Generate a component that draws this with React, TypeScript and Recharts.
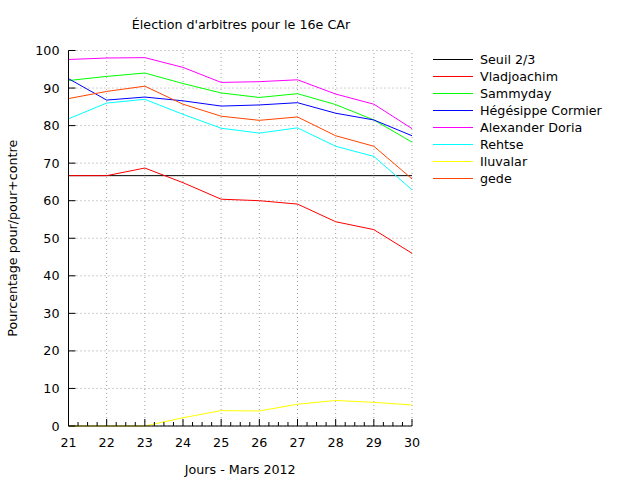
import { CartesianGrid, Legend, Line, LineChart, ReferenceLine, XAxis, YAxis } from "recharts";

const days = [21, 22, 23, 24, 25, 26, 27, 28, 29, 30];
const seuil = [66.67, 66.67, 66.67, 66.67, 66.67, 66.67, 66.67, 66.67, 66.67, 66.67];
const vladjoachim = [66.67, 66.67, 68.7, 64.8, 60.4, 60.0, 59.1, 54.4, 52.3, 46.0];
const sammyday = [92.0, 93.1, 94.0, 91.2, 88.7, 87.5, 88.5, 85.6, 81.5, 75.6];
const hegesippe = [92.5, 86.8, 87.6, 86.6, 85.2, 85.5, 86.1, 83.3, 81.5, 77.3];
const alexander = [97.6, 98.0, 98.1, 95.5, 91.5, 91.7, 92.2, 88.4, 85.7, 79.2];
const rehtse = [81.8, 86.0, 87.0, 83.0, 79.3, 78.0, 79.4, 74.5, 71.8, 62.9];
const iluvalar = [0, 0, 0, 2.2, 4.1, 4.0, 5.8, 6.8, 6.3, 5.6];
const gede = [87.2, 89.1, 90.5, 85.7, 82.5, 81.4, 82.3, 77.3, 74.5, 65.8];

const xTicks = [21, 21.25, 21.5, 21.75, 22, 22.25, 22.5, 22.75, 23, 23.25, 23.5, 23.75, 24, 24.25, 24.5, 24.75, 25, 25.25, 25.5, 25.75, 26, 26.25, 26.5, 26.75, 27, 27.25, 27.5, 27.75, 28, 28.25, 28.5, 28.75, 29, 29.25, 29.5, 29.75, 30];
const yTicks = [0, 10, 20, 30, 40, 50, 60, 70, 80, 90, 100];

const series = [
  { key: "seuil", name: "Seuil 2/3", color: "#000000", values: seuil },
  { key: "vladjoachim", name: "Vladjoachim", color: "#ff0000", values: vladjoachim },
  { key: "sammyday", name: "Sammyday", color: "#00ff00", values: sammyday },
  { key: "hegesippe", name: "Hégésippe Cormier", color: "#0000ff", values: hegesippe },
  { key: "alexander", name: "Alexander Doria", color: "#ff00ff", values: alexander },
  { key: "rehtse", name: "Rehtse", color: "#00ffff", values: rehtse },
  { key: "iluvalar", name: "Iluvalar", color: "#ffff00", values: iluvalar },
  { key: "gede", name: "gede", color: "#ff4500", values: gede },
];

const data = days.map((day, i) => {
  const row: Record<string, number> = { day };
  series.forEach((s) => (row[s.key] = s.values[i]));
  return row;
});

const font = "DejaVu Sans, sans-serif";
const fs = 12.7;

function XTick({ x, y, payload }: any) {
  const major = Number.isInteger(payload.value);
  return (
    <g>
      <line x1={x} x2={x} y1={y} y2={y - (major ? 7 : 4)} stroke="#000" />
      {major && (
        <text x={x} y={y + 21} textAnchor="middle" fontSize={fs} fontFamily={font} fill="#000">
          {payload.value}
        </text>
      )}
    </g>
  );
}

function YTick({ x, y, payload }: any) {
  return (
    <g>
      <line x1={x} x2={x + 7} y1={y} y2={y} stroke="#000" />
      <text x={x - 9} y={y + 4.5} textAnchor="end" fontSize={fs} fontFamily={font} fill="#000">
        {payload.value}
      </text>
    </g>
  );
}

function LegendContent() {
  return (
    <svg width={200} height={150}>
      {series.map((s, i) => (
        <g key={s.key}>
          <line x1={0} x2={40} y1={9.5 + i * 17} y2={9.5 + i * 17} stroke={s.color} />
          <text x={47} y={14 + i * 17} fontSize={fs} fontFamily={font} fill="#000">
            {s.name}
          </text>
        </g>
      ))}
    </svg>
  );
}

export default function App() {
  return (
    <div style={{ position: "absolute", left: 0, top: 0, width: 640, height: 480, background: "#fff", fontFamily: font }}>
      <div style={{ position: "absolute", left: 1, top: 17, width: 480, textAlign: "center", fontSize: fs }}>
        Élection d'arbitres pour le 16e CAr
      </div>
      <LineChart width={640} height={480} data={data} margin={{ top: 50.5, right: 228, bottom: 0, left: 0 }}>
        <CartesianGrid vertical={false} stroke="#a0a0a0" strokeDasharray="1 3" />
        {days.slice(1).map((d) => (
          <ReferenceLine key={d} x={d} stroke="#a0a0a0" strokeDasharray="1 3" />
        ))}
        <XAxis
          dataKey="day"
          type="number"
          domain={[21, 30]}
          ticks={xTicks}
          interval={0}
          height={54}
          tickSize={0}
          tickMargin={0}
          tickLine={false}
          axisLine={{ stroke: "#000" }}
          tick={<XTick />}
          label={{ value: "Jours - Mars 2012", position: "insideBottom", offset: 6, fontSize: fs, fontFamily: font, fill: "#000" }}
        />
        <YAxis
          type="number"
          domain={[0, 100]}
          ticks={yTicks}
          interval={0}
          width={68.5}
          tickSize={0}
          tickMargin={0}
          tickLine={false}
          axisLine={{ stroke: "#000" }}
          tick={<YTick />}
          label={{ value: "Pourcentage pour/pour+contre", angle: -90, position: "insideLeft", offset: 12, fontSize: fs, fontFamily: font, fill: "#000", style: { textAnchor: "middle" } }}
        />
        <Legend
          layout="vertical"
          align="center"
          verticalAlign="middle"
          wrapperStyle={{ left: 433, top: 50, width: 200, height: 150 }}
          content={<LegendContent />}
        />
        {series.map((s) => (
          <Line
            key={s.key}
            dataKey={s.key}
            name={s.name}
            stroke={s.color}
            strokeWidth={1}
            dot={false}
            activeDot={false}
            isAnimationActive={false}
          />
        ))}
      </LineChart>
    </div>
  );
}
